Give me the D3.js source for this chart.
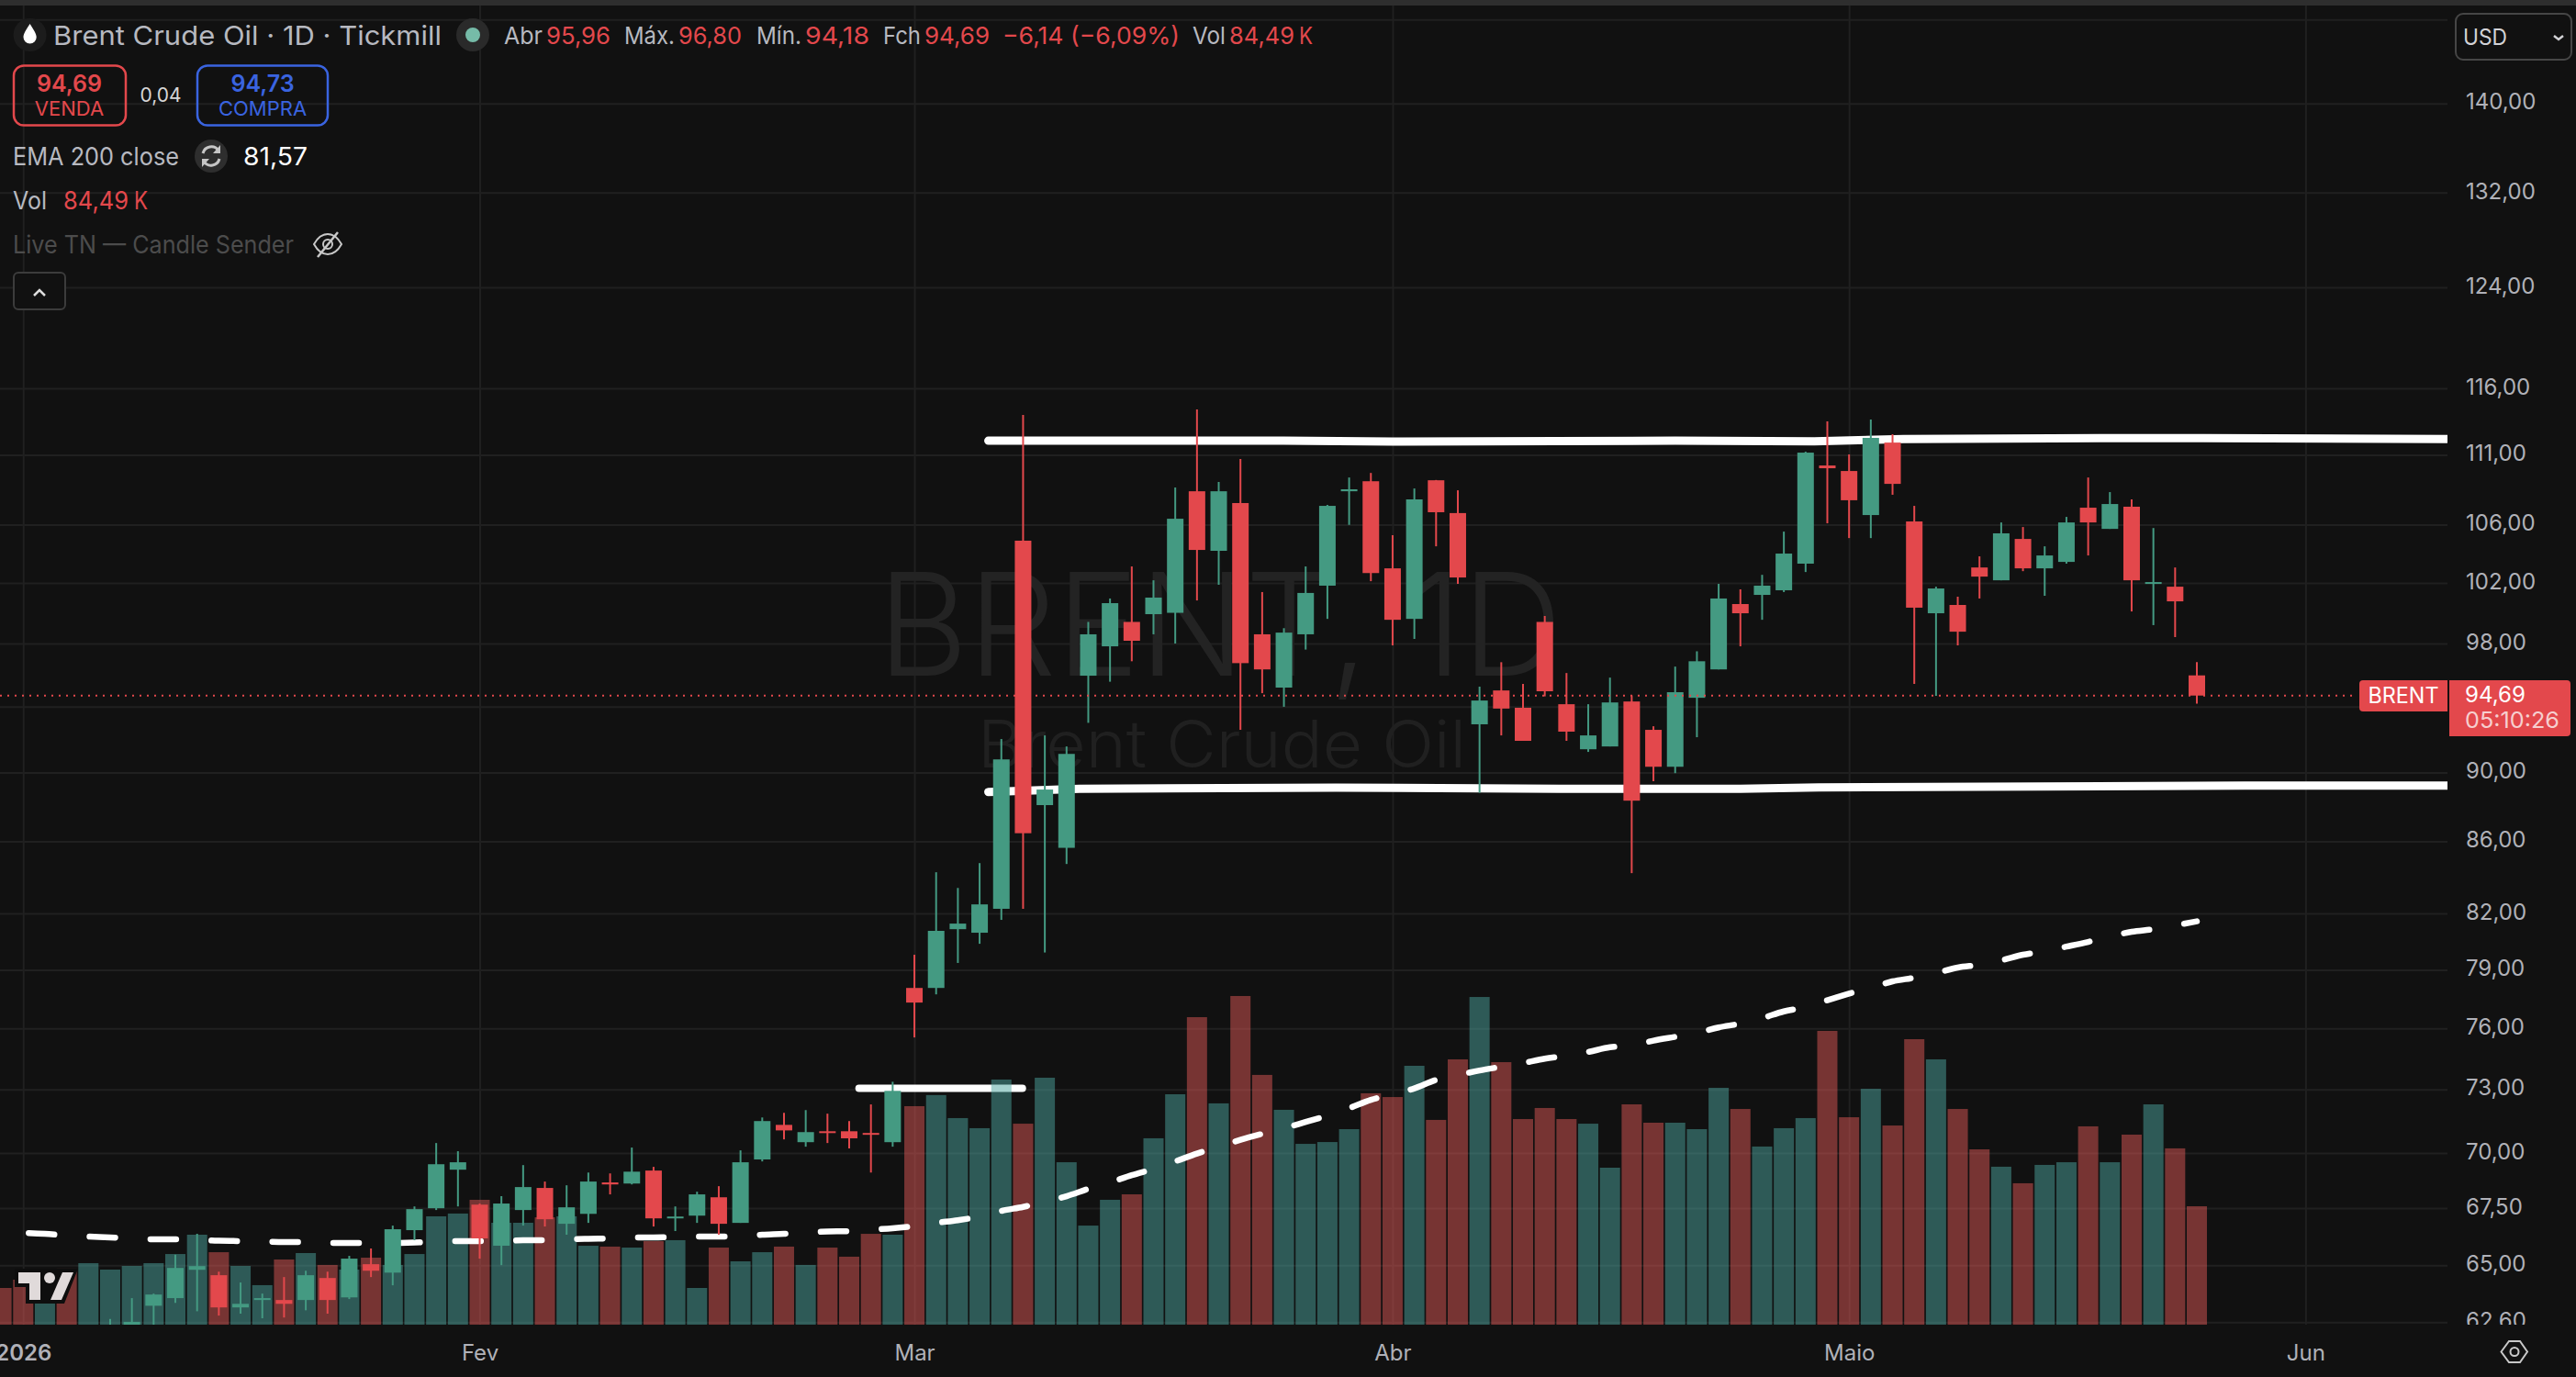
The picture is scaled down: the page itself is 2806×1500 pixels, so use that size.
<html>
  <head>
    <meta charset="utf-8">
    <script src="https://cdn.jsdelivr.net/npm/d3@7/dist/d3.min.js" charset="utf-8"></script>
    <style>
      html, body { margin: 0; padding: 0; background: #111111; overflow: hidden; }
      svg { display: block; font-family: Inter, "Liberation Sans", sans-serif; }
    </style>
  </head>
  <body>
    <script>
      var w = 2806;
      var h = 1500;

      // price axis ticks (148 and 94 have a grid line but no visible label)
      var priceTicks = [148, 140, 132, 124, 116, 111, 106, 102, 98, 94, 90, 86, 82, 79, 76, 73, 70, 67.5, 65, 62.6];
      // month labels sit on these bars
      var monthBars = [1, 22, 42, 64, 85, 106];
      var monthLabels = ["2026", "Fev", "Mar", "Abr", "Maio", "Jun"];

      // candles start at bar 5, the older ones are below the visible range
      var candleStart = 5;
      var candleOpen = [
        62.23, 62.42, 63.28, 63.60, 64.80, 64.57, 63.21, 63.52, 63.52, 63.52,
        64.45, 63.63, 65.04, 64.68, 66.52, 67.49, 69.23, 67.65, 65.84, 67.41,
        68.40, 66.80, 67.24, 68.65, 68.60, 69.19, 67.04, 67.16, 67.98, 66.84,
        69.70, 71.31, 70.50, 71.01, 71.01, 70.93, 70.50, 78.06, 78.06, 81.15,
        80.96, 82.25, 104.89, 88.08, 85.63, 95.94, 97.82, 99.41, 99.92, 100.01,
        108.37, 104.19, 107.53, 98.60, 95.19, 98.60, 101.82, 108.37, 109.09, 102.99,
        99.61, 109.16, 106.82, 92.91, 95.01, 93.93, 99.41, 94.15, 91.39, 91.56,
        94.32, 92.57, 90.34, 94.55, 96.34, 100.59, 101.20, 101.51, 103.31, 110.23,
        109.83, 106.68, 111.91, 106.23, 99.98, 100.53, 103.05, 102.18, 105.01, 102.99,
        103.43, 107.20, 105.71, 107.27, 101.94, 101.75, 95.96
      ];
      var candleHigh = [
        62.73, 63.60, 63.79, 65.45, 66.36, 64.72, 64.26, 63.79, 64.49, 64.76,
        64.72, 65.40, 65.72, 66.72, 67.57, 70.46, 70.08, 67.70, 68.03, 69.44,
        68.69, 68.52, 69.10, 69.06, 70.25, 69.36, 67.57, 68.23, 68.48, 70.12,
        71.66, 71.88, 72.01, 71.84, 71.49, 72.28, 73.37, 79.79, 84.26, 83.39,
        84.77, 92.01, 113.97, 92.23, 91.56, 99.41, 100.96, 103.12, 102.18, 108.64,
        114.39, 109.04, 110.70, 101.39, 99.00, 103.12, 107.40, 109.36, 109.69, 105.27,
        108.57, 109.18, 108.44, 95.25, 96.80, 95.42, 99.80, 96.11, 94.15, 95.82,
        94.70, 92.79, 96.52, 97.50, 101.94, 101.57, 102.55, 105.52, 111.24, 113.49,
        111.04, 113.63, 112.53, 107.33, 101.75, 101.08, 103.81, 106.16, 105.84, 104.50,
        106.55, 109.36, 108.31, 107.79, 105.77, 103.05, 96.80
      ];
      var candleLow = [
        62.00, 62.30, 62.38, 63.40, 63.05, 62.87, 62.95, 62.76, 62.79, 63.09,
        62.95, 63.56, 64.49, 64.14, 66.08, 67.41, 67.57, 65.28, 65.00, 66.72,
        66.68, 66.32, 66.84, 68.11, 68.56, 66.68, 66.48, 66.84, 66.32, 66.84,
        69.61, 70.63, 70.29, 70.46, 70.21, 69.10, 70.29, 75.55, 77.73, 79.36,
        80.37, 81.65, 82.25, 79.91, 84.72, 93.00, 95.56, 96.86, 98.60, 98.00,
        100.83, 101.88, 92.57, 94.84, 93.99, 97.61, 99.61, 105.99, 102.12, 97.88,
        98.30, 104.50, 101.94, 88.80, 92.23, 91.90, 94.64, 91.90, 91.23, 91.56,
        84.21, 89.48, 89.96, 92.12, 96.34, 97.82, 99.55, 101.39, 102.74, 106.10,
        105.07, 105.07, 108.12, 95.42, 94.67, 97.88, 100.96, 102.18, 102.80, 101.14,
        103.31, 103.87, 105.71, 100.10, 99.20, 98.42, 94.18
      ];
      var candleClose = [
        62.38, 62.61, 63.75, 64.88, 64.96, 63.21, 63.36, 63.60, 63.36, 64.57,
        63.52, 65.28, 64.76, 66.56, 67.45, 69.48, 69.57, 66.16, 67.70, 68.44,
        67.00, 67.53, 68.69, 68.56, 69.14, 67.04, 67.12, 68.11, 66.80, 69.57,
        71.49, 71.05, 70.97, 70.93, 70.68, 70.85, 72.93, 77.31, 81.06, 81.45,
        82.49, 90.78, 86.46, 88.99, 91.11, 98.60, 100.65, 98.18, 101.02, 106.42,
        104.25, 108.37, 96.74, 96.34, 98.71, 101.33, 107.33, 108.51, 102.67, 99.55,
        107.79, 106.88, 102.37, 94.38, 93.88, 91.90, 94.96, 92.46, 92.23, 94.26,
        88.34, 90.34, 94.90, 96.86, 100.96, 99.98, 101.82, 104.00, 111.17, 110.03,
        107.73, 112.26, 108.90, 100.35, 101.63, 98.77, 102.43, 105.40, 102.99, 103.87,
        106.16, 106.16, 107.46, 102.18, 102.06, 100.77, 94.69
      ];

      // volume in thousands, one per bar from bar 0
      var volume = [
        26.2, 32.1, 39.3, 40.0, 43.9, 39.3, 41.9, 43.9, 50.4, 64.2,
        51.7, 41.9, 28.2, 46.5, 51.1, 42.6, 39.3, 47.8, 42.6, 50.4,
        77.3, 79.3, 89.1, 72.7, 72.7, 76.6, 77.3, 56.3, 55.7, 55.0,
        59.6, 60.3, 26.2, 55.0, 45.2, 51.7, 55.7, 42.6, 55.0, 48.5,
        64.8, 64.2, 155.9, 163.8, 147.4, 140.2, 174.9, 143.4, 176.2, 115.9,
        70.7, 89.1, 93.0, 133.0, 164.4, 219.4, 157.9, 234.5, 178.2, 153.3,
        129.0, 130.3, 139.5, 165.1, 162.4, 184.7, 146.1, 189.3, 233.8, 187.3,
        146.7, 154.6, 146.7, 143.4, 112.0, 157.2, 144.1, 144.1, 139.5, 169.0,
        153.9, 127.1, 140.2, 147.4, 209.6, 148.0, 168.3, 142.1, 203.7, 189.3,
        153.9, 125.1, 112.7, 100.9, 114.0, 115.9, 141.5, 115.9, 135.6, 157.2,
        125.8, 84.49
      ];
      // the first bars have no visible candle so their direction is kept here
      var firstBarsUp = [false, false, true, false, true];

      // EMA 200, from bar 1
      var emaStart = 1;
      var ema = [
        66.40, 66.36, 66.28, 66.24, 66.20, 66.16, 66.12, 66.12, 66.08, 66.06,
        66.04, 66.02, 66.00, 66.00, 65.96, 65.96, 65.96, 65.96, 65.98, 66.00,
        66.04, 66.04, 66.04, 66.08, 66.08, 66.12, 66.14, 66.16, 66.20, 66.20,
        66.22, 66.24, 66.24, 66.26, 66.32, 66.36, 66.42, 66.46, 66.48, 66.54,
        66.60, 66.70, 66.84, 66.96, 67.12, 67.37, 67.55, 67.77, 68.03, 68.36,
        68.65, 68.98, 69.27, 69.61, 69.97, 70.29, 70.61, 70.89, 71.15, 71.45,
        71.75, 72.10, 72.50, 72.76, 73.05, 73.46, 73.69, 73.92, 74.10, 74.28,
        74.50, 74.64, 74.83, 75.06, 75.15, 75.39, 75.58, 75.77, 76.05, 76.24,
        76.52, 76.86, 77.08, 77.43, 77.77, 78.06, 78.40, 78.59, 78.83, 79.12,
        79.26, 79.50, 79.79, 79.98, 80.22, 80.47, 80.76, 81.01, 81.15, 81.35, 81.57
      ];

      // hand drawn lines on the chart
      var upperLineBars = [45.4, 59, 64, 77, 83.4, 87.5, 97, 101.3, 112.5];
      var upperLinePrices = [112.05, 112.05, 111.98, 112.05, 112.00, 112.18, 112.25, 112.25, 112.18];
      var lowerLineBars = [45.4, 49.6, 61.4, 71.7, 80, 83.6, 103.2, 112.5];
      var lowerLinePrices = [88.85, 89.04, 89.10, 89.04, 89.04, 89.12, 89.22, 89.22];
      var shortLineBars = [39.45, 46.97];
      var shortLinePrices = [73.05, 73.05];

      var lastPrice = 94.69;

      var bg = "#111111";
      var up = "#449a82";
      var down = "#e3484c";
      var gridColor = "#202020";
      var axisColor = "#b0b1b8";

      var plotRight = 2666;
      var plotBottom = 1443;

      var svg = d3.select("body")
                  .append("svg")
                    .attr("width", w)
                    .attr("height", h);

      var defs = svg.append("defs");
      defs.append("clipPath").attr("id", "plotClip")
          .append("rect").attr("x", 0).attr("y", 0).attr("width", plotRight).attr("height", plotBottom);
      defs.append("clipPath").attr("id", "axisClip")
          .append("rect").attr("x", 0).attr("y", 0).attr("width", w).attr("height", plotBottom);

      var x = d3.scaleLinear().domain([0, 101]).range([1.6, 2393]);
      var y = d3.scaleLog().domain([140, 62.6]).range([112.8, 1440.2]);
      var yVol = d3.scaleLinear().domain([0, 84.49]).range([plotBottom, 1314]);

      svg.append("rect").attr("width", w).attr("height", h).attr("fill", bg);
      // thin strip of the window above the chart
      svg.append("rect").attr("width", w).attr("height", 6).attr("fill", "#2e2e2e");

      // Eixo de preco e grade horizontal
      var priceFormat = d3.format(".2f");
      var yAxis = d3.axisRight(y)
                    .tickValues(priceTicks)
                    .tickSize(-plotRight)
                    .tickPadding(20)
                    .tickFormat(function(d) {
                      if (d === 148 || d === 94) { return ""; }
                      return priceFormat(d).replace(".", ",");
                    });
      var yAxisG = svg.append("g").attr("clip-path", "url(#axisClip)")
                      .append("g")
                        .attr("transform", "translate(" + plotRight + ",0)")
                        .call(yAxis);
      yAxisG.select(".domain").remove();
      yAxisG.selectAll("line").attr("stroke", gridColor).attr("stroke-width", 2);
      yAxisG.selectAll("text")
            .attr("y", -1.5)
            .attr("fill", axisColor)
            .attr("font-family", "Inter")
            .attr("font-size", 24);

      // Eixo de tempo e grade vertical
      var xAxis = d3.axisBottom(x)
                    .tickValues(monthBars)
                    .tickSize(-(plotBottom - 6))
                    .tickPadding(22)
                    .tickFormat(function(d, i) { return monthLabels[i]; });
      var xAxisG = svg.append("g")
                      .attr("transform", "translate(0," + plotBottom + ")")
                      .call(xAxis);
      xAxisG.select(".domain").remove();
      xAxisG.selectAll("line").attr("stroke", gridColor).attr("stroke-width", 2);
      xAxisG.selectAll("text")
            .attr("fill", axisColor)
            .attr("font-family", "Inter")
            .attr("font-size", 24)
            .attr("font-weight", function(d, i) { return i === 0 ? 600 : 400; });

      // Marca d'agua
      svg.append("text").text("BRENT, 1D")
         .attr("x", 956).attr("y", 736)
         .attr("font-size", 155).attr("font-weight", 300)
         .attr("textLength", 746).attr("lengthAdjust", "spacingAndGlyphs")
         .attr("fill", "#232323");
      svg.append("text").text("Brent Crude Oil")
         .attr("x", 1065).attr("y", 836)
         .attr("font-size", 71).attr("font-weight", 300)
         .attr("textLength", 532).attr("lengthAdjust", "spacingAndGlyphs")
         .attr("fill", "#202020");

      var plot = svg.append("g").attr("clip-path", "url(#plotClip)");

      var lineByBar = d3.line()
                        .x(function(d) { return x(d[0]); })
                        .y(function(d) { return y(d[1]); });

      // short line stays under the volume bars
      plot.append("path")
          .attr("d", lineByBar(d3.zip(shortLineBars, shortLinePrices)))
          .attr("fill", "none")
          .attr("stroke", "#ffffff")
          .attr("stroke-width", 8)
          .attr("stroke-linecap", "round");

      function barIsUp(i) {
        if (i < candleStart) { return firstBarsUp[i]; }
        return candleClose[i - candleStart] >= candleOpen[i - candleStart];
      }

      // Volume
      plot.selectAll("rect.vol")
          .data(volume)
          .enter()
          .append("rect")
            .attr("class", "vol")
            .attr("x", function(d, i) { return x(i) - 11; })
            .attr("width", 22)
            .attr("y", function(d) { return yVol(d); })
            .attr("height", function(d) { return plotBottom - yVol(d); })
            .attr("fill", function(d, i) { return barIsUp(i) ? "#4ba39d" : "#dd5755"; })
            .attr("fill-opacity", 0.5);

      // EMA 200 tracejada
      var emaPoints = ema.map(function(d, i) { return [i + emaStart, d]; });
      plot.append("path")
          .attr("d", d3.line()
                       .x(function(d) { return x(d[0]); })
                       .y(function(d) { return y(d[1]); })
                       .curve(d3.curveMonotoneX)(emaPoints))
          .attr("fill", "none")
          .attr("stroke", "#ffffff")
          .attr("stroke-width", 6.5)
          .attr("stroke-linecap", "round")
          .attr("stroke-dasharray", "28 38.4")
          .attr("stroke-dashoffset", -6);

      // Linhas brancas de canal
      plot.append("path")
          .attr("d", lineByBar(d3.zip(upperLineBars, upperLinePrices)))
          .attr("fill", "none").attr("stroke", "#ffffff")
          .attr("stroke-width", 9).attr("stroke-linecap", "round");
      plot.append("path")
          .attr("d", lineByBar(d3.zip(lowerLineBars, lowerLinePrices)))
          .attr("fill", "none").attr("stroke", "#ffffff")
          .attr("stroke-width", 9).attr("stroke-linecap", "round");

      // Linha do ultimo preco
      svg.append("line")
         .attr("x1", 0).attr("x2", 2566)
         .attr("y1", y(lastPrice)).attr("y2", y(lastPrice))
         .attr("stroke", down).attr("stroke-width", 2)
         .attr("stroke-dasharray", "2 6");

      // Velas
      var candles = plot.selectAll("g.candle")
                        .data(candleOpen)
                        .enter()
                        .append("g")
                          .attr("class", "candle");
      function candleColor(i) { return candleClose[i] >= candleOpen[i] ? up : down; }
      candles.append("line")
             .attr("x1", function(d, i) { return x(i + candleStart); })
             .attr("x2", function(d, i) { return x(i + candleStart); })
             .attr("y1", function(d, i) { return y(candleHigh[i]); })
             .attr("y2", function(d, i) { return y(candleLow[i]); })
             .attr("stroke", function(d, i) { return candleColor(i); })
             .attr("stroke-width", 2);
      candles.append("rect")
             .attr("x", function(d, i) { return x(i + candleStart) - 9; })
             .attr("width", 18)
             .attr("y", function(d, i) { return Math.min(y(candleOpen[i]), y(candleClose[i])); })
             .attr("height", function(d, i) { return Math.max(2, Math.abs(y(candleOpen[i]) - y(candleClose[i]))); })
             .attr("fill", function(d, i) { return candleColor(i); });

      // Logo
      svg.append("path")
         .attr("d", "M16 1382H85L70 1420H28V1402H16Z")
         .attr("fill", "#0e0e0e");
      svg.append("path")
         .attr("d", "M20 1386H44V1416H32V1398H20ZM68 1386H80L67 1416H55Z")
         .attr("fill", "#e0dada");
      svg.append("circle").attr("cx", 54).attr("cy", 1392).attr("r", 6).attr("fill", "#e0dada");

      // Textos do cabecalho
      function label(tx, ty, text, size, color, len, anchor, weight) {
        var t = svg.append("text").text(text)
                   .attr("x", tx).attr("y", ty)
                   .attr("dy", ".35em")
                   .attr("font-size", size)
                   .attr("fill", color);
        if (len) { t.attr("textLength", len).attr("lengthAdjust", "spacingAndGlyphs"); }
        if (anchor) { t.attr("text-anchor", anchor); }
        if (weight) { t.attr("font-weight", weight); }
        return t;
      }

      var titleGray = "#b7b9c0";
      svg.append("circle").attr("cx", 32.6).attr("cy", 38).attr("r", 18).attr("fill", "#1c1c1c");
      svg.append("path")
         .attr("d", "M32.6 26C28 33 25.5 37 25.5 40.5A7.1 7.1 0 0 0 39.7 40.5C39.7 37 37 33 32.6 26Z")
         .attr("fill", "#ffffff");
      label(58, 39, "Brent Crude Oil · 1D · Tickmill", 29, titleGray, 423);
      svg.append("circle").attr("cx", 515).attr("cy", 38).attr("r", 18).attr("fill", "#2a2a2a");
      svg.append("circle").attr("cx", 515).attr("cy", 38).attr("r", 8).attr("fill", "#76bba8");

      label(549, 39, "Abr", 26, titleGray, 42);
      label(595, 39, "95,96", 26, down, 70);
      label(680, 39, "Máx.", 26, titleGray, 55);
      label(739, 39, "96,80", 26, down, 69);
      label(824, 39, "Mín.", 26, titleGray, 49);
      label(877, 39, "94,18", 26, down, 70);
      label(962, 39, "Fch", 26, titleGray, 41);
      label(1007, 39, "94,69", 26, down, 71);
      label(1092, 39, "−6,14 (−6,09%)", 26, down, 193);
      label(1299, 39, "Vol", 26, titleGray, 36);
      label(1339, 39, "84,49", 26, down, 71);
      label(1415, 39, "K", 26, down, 15);

      // Botoes de venda e compra
      var sellBlue = "#3a64e0";
      svg.append("rect").attr("x", 15).attr("y", 71.5).attr("width", 122).attr("height", 65).attr("rx", 11)
         .attr("fill", "none").attr("stroke", down).attr("stroke-width", 2.5);
      svg.append("rect").attr("x", 215).attr("y", 71.5).attr("width", 142).attr("height", 65).attr("rx", 11)
         .attr("fill", "none").attr("stroke", sellBlue).attr("stroke-width", 2.5);
      label(75.5, 91, "94,69", 25, down, 0, "middle", 600);
      label(75.5, 118, "VENDA", 22, down, 0, "middle");
      label(175, 104, "0,04", 21, "#d6d6d6", 0, "middle");
      label(286, 91, "94,73", 25, sellBlue, 0, "middle", 600);
      label(286, 118, "COMPRA", 22, sellBlue, 0, "middle");

      // Indicadores
      label(14, 171, "EMA 200 close", 27, titleGray, 181);
      svg.append("circle").attr("cx", 230).attr("cy", 170).attr("r", 18).attr("fill", "#2e2e2e");
      svg.append("path")
         .attr("d", "M221 167A9.5 9.5 0 0 1 238 164M239 173A9.5 9.5 0 0 1 222 176")
         .attr("fill", "none").attr("stroke", "#c6c6c6").attr("stroke-width", 3);
      svg.append("path").attr("d", "M240 158V167H232ZM220 182V173H228Z").attr("fill", "#c6c6c6");
      label(265, 171, "81,57", 27, "#ffffff", 70);

      label(14, 219, "Vol", 27, titleGray, 37);
      label(69, 219, "84,49", 27, down, 71);
      label(146, 219, "K", 27, down, 15);

      label(14, 267, "Live TN — Candle Sender", 27, "#4c4c4c", 306);
      svg.append("path")
         .attr("d", "M342 266C347 257 352 255 357 255C362 255 367 257 372 266C367 275 362 277 357 277C352 277 347 275 342 266Z")
         .attr("fill", "none").attr("stroke", "#c8c8c8").attr("stroke-width", 2);
      svg.append("circle").attr("cx", 357).attr("cy", 266).attr("r", 5)
         .attr("fill", "none").attr("stroke", "#c8c8c8").attr("stroke-width", 2);
      svg.append("line").attr("x1", 346).attr("y1", 280).attr("x2", 368).attr("y2", 253)
         .attr("stroke", "#c8c8c8").attr("stroke-width", 2.5);

      svg.append("rect").attr("x", 15).attr("y", 297).attr("width", 56).attr("height", 40).attr("rx", 5)
         .attr("fill", bg).attr("stroke", "#3c3c3c").attr("stroke-width", 2);
      svg.append("path").attr("d", "M37 322L43 316L49 322")
         .attr("fill", "none").attr("stroke", "#dddddd").attr("stroke-width", 2.5);

      // Seletor de moeda
      svg.append("rect").attr("x", 2675).attr("y", 15).attr("width", 126).attr("height", 50).attr("rx", 8)
         .attr("fill", bg).attr("stroke", "#464646").attr("stroke-width", 2);
      label(2683, 41, "USD", 24, "#d2d2d6", 48);
      svg.append("path").attr("d", "M2782 39L2787 43L2792 39")
         .attr("fill", "none").attr("stroke", "#d2d2d6").attr("stroke-width", 2.5);

      // Etiqueta do ultimo preco
      svg.append("path")
         .attr("d", "M2574 741H2666V775H2574A4 4 0 0 1 2570 771V745A4 4 0 0 1 2574 741Z")
         .attr("fill", down);
      svg.append("path")
         .attr("d", "M2668 741H2796A4 4 0 0 1 2800 745V798A4 4 0 0 1 2796 802H2668Z")
         .attr("fill", down);
      label(2618, 757.5, "BRENT", 24, "#ffffff", 77, "middle");
      label(2685, 757, "94,69", 24, "#ffffff", 66);
      label(2685, 784.5, "05:10:26", 24, "#f6cfcf", 103);

      // Configuracoes
      svg.append("path").attr("d", "M2724.5 1472.5L2733 1461H2745L2753 1472.5L2745 1484H2733Z")
         .attr("fill", "none").attr("stroke", "#c8c8c8").attr("stroke-width", 2);
      svg.append("circle").attr("cx", 2739).attr("cy", 1472.5).attr("r", 4.5)
         .attr("fill", "none").attr("stroke", "#c8c8c8").attr("stroke-width", 2);
    </script>
  </body>
</html>
